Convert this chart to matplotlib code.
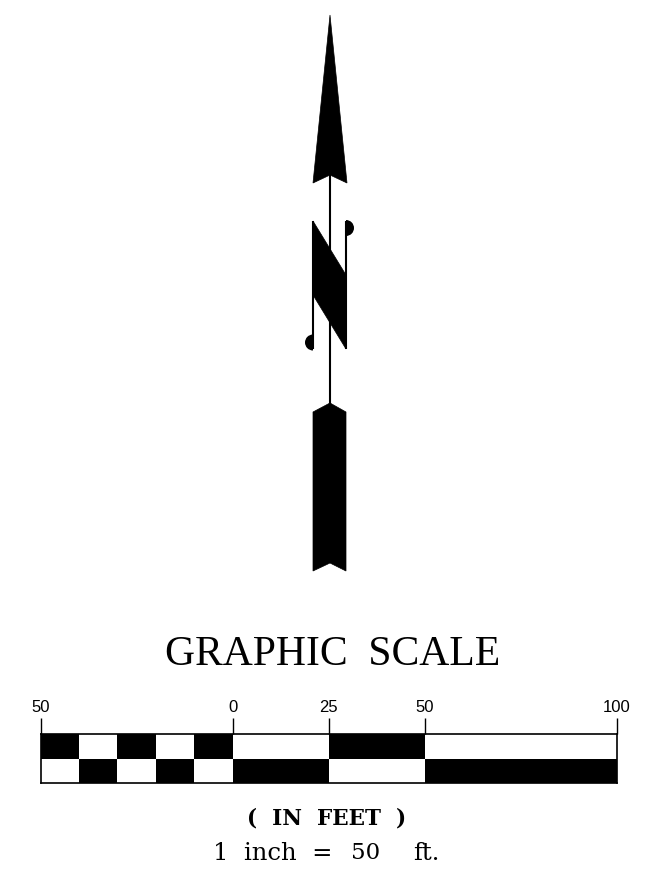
import matplotlib
matplotlib.use('Agg')
import matplotlib.pyplot as plt
from matplotlib.patches import Polygon, Wedge

W, H = 658, 876

# north arrow outline points, picture pixels
head_x = [330, 347, 330, 313]
head_y = [15, 183, 175, 183]
n_body_x = [313, 346, 346, 313]
n_body_y = [221, 275, 349, 295]
tail_x = [330, 346, 346, 330, 313, 313]
tail_y = [403, 412, 571, 563, 571, 412]

# scale bar, in feet
top_edges = [-50, -40, -30, -20, -10, 0, 25, 50, 100]
top_black = [1, 0, 1, 0, 1, 0, 1, 0]
bottom_black = [0, 1, 0, 1, 0, 1, 0, 1]
tick_feet = [-50, 0, 25, 50, 100]
tick_labels = ['50', '0', '25', '50', '100']

fig = plt.figure(figsize=(W / 100, H / 100), dpi=100)
ax = fig.add_axes([0, 0, 1, 1])
ax.set_xlim(0, W)
ax.set_ylim(H, 0)
ax.axis('off')

# arrow
ax.add_patch(Polygon(list(zip(head_x, head_y)), fc='k', ec='k', lw=0.5))
ax.add_patch(Polygon(list(zip(n_body_x, n_body_y)), fc='k', ec='k', lw=0.5))
ax.add_patch(Polygon(list(zip(tail_x, tail_y)), fc='k', ec='k', lw=0.5))
ax.plot([330, 330], [175, 405], color='k', lw=1.5, solid_capstyle='butt')
ax.plot([313, 313], [221, 349], color='k', lw=1.5, solid_capstyle='butt')
ax.plot([346, 346], [221, 349], color='k', lw=1.5, solid_capstyle='butt')
ax.add_patch(Wedge((346, 228), 8, -90, 90, fc='k', ec='none'))
ax.add_patch(Wedge((313, 342.5), 8, 90, 270, fc='k', ec='none'))

# title and captions
ax.text(332.5, 665, 'GRAPHIC  SCALE', family='Liberation Serif', fontsize=30,
        ha='center', va='baseline', color='k')
ax.text(326.5, 825, '(  IN  FEET  )', family='DejaVu Serif', fontsize=15.5,
        weight='bold', ha='center', va='baseline', color='k')
ax.text(213, 860, '1  inch  =', family='DejaVu Serif', fontsize=17.5, ha='left', va='baseline', color='k')
ax.text(366, 859, '50', family='DejaVu Serif', fontsize=16.5, ha='center', va='baseline', color='k')
ax.text(413, 860, 'ft.', family='DejaVu Serif', fontsize=17.5, ha='left', va='baseline', color='k')

# scale bar on its own axes so the bars follow the feet scale
x0, x1 = 40.5, 617
y0, y1 = 734, 783
sx = fig.add_axes([x0 / W, 1 - y1 / H, (x1 - x0) / W, (y1 - y0) / H])
sx.set_xlim(tick_feet[0], tick_feet[-1])
sx.set_ylim(0, 2)
for i in range(len(top_black)):
    left = top_edges[i]
    width = top_edges[i + 1] - top_edges[i]
    sx.barh(1.5, width, 1, left=left, color='k' if top_black[i] else 'w', lw=0)
    sx.barh(0.5, width, 1, left=left, color='k' if bottom_black[i] else 'w', lw=0)
for s in ['left', 'right', 'top', 'bottom']:
    sx.spines[s].set_linewidth(1.2)
sx.set_yticks([])
sx.set_xticks(tick_feet)
sx.set_xticklabels(tick_labels, family='Liberation Sans', fontsize=12)
sx.tick_params(axis='x', bottom=False, labelbottom=False, top=True, labeltop=True,
               length=11.5, width=1, pad=2)

fig.savefig('out.png', dpi=100)
